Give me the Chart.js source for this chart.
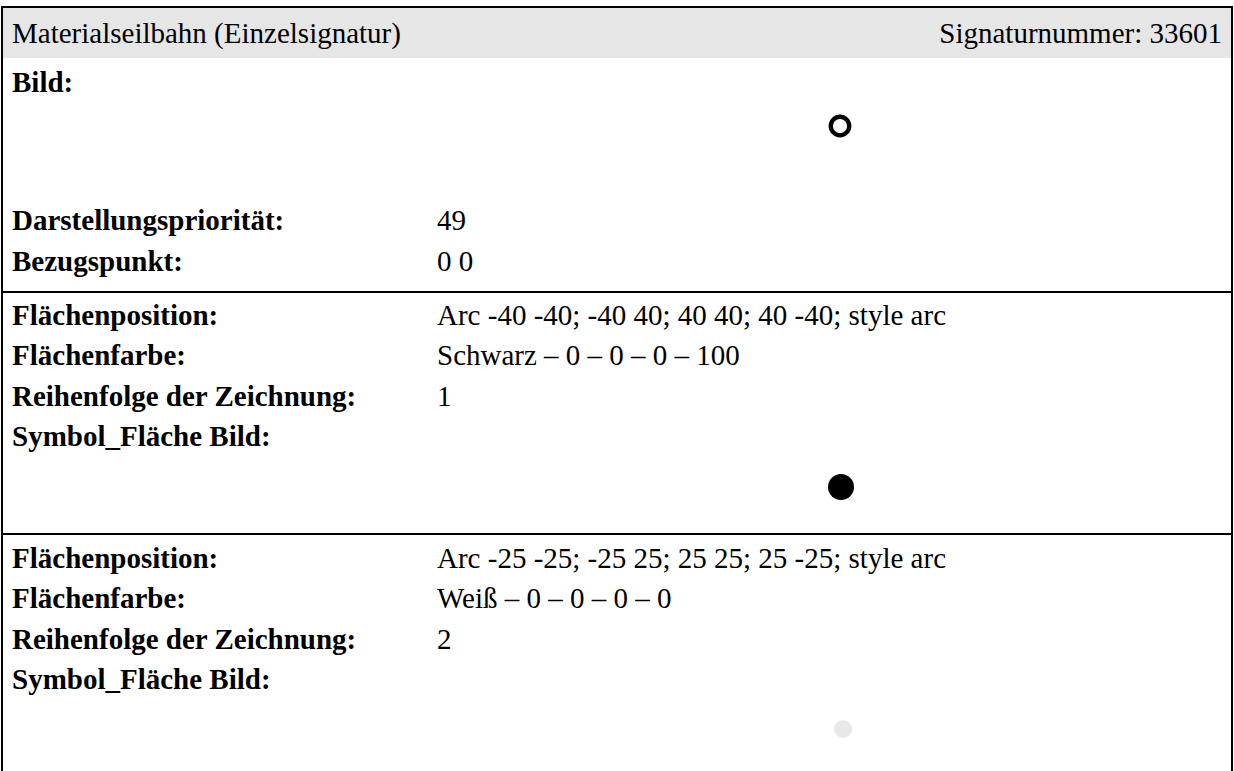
<!DOCTYPE html>
<html>
<head>
<meta charset="utf-8">
<script src="https://cdn.jsdelivr.net/npm/chart.js@4/dist/chart.umd.min.js"></script>
<style>
  html, body { margin: 0; padding: 0; background: #fff; }
  body { width: 1234px; height: 771px; position: relative; overflow: hidden;
         font-family: "Liberation Serif", "Times New Roman", serif; font-size: 29px; color: #000; }
  .frame { position: absolute; left: 1px; top: 6px; width: 1232px; height: 800px;
           box-sizing: border-box; border: 2px solid #000; border-bottom: none; }
  .head { position: absolute; left: 3px; top: 8px; width: 1228px; height: 50px; background: #e6e6e6; }
  .rule { position: absolute; left: 1px; width: 1232px; height: 2px; background: #000; }
  .t { position: absolute; line-height: 29px; white-space: nowrap; }
  .b { font-weight: bold; }
  canvas { position: absolute; }
</style>
</head>
<body>
<div class="frame"></div>
<div class="head"></div>
<div id="doc"></div>

<script>
// Sheet data
const title = 'Materialseilbahn (Einzelsignatur)'
const signatureNumber = 33601
const displayPriority = 49
const referencePoint = [0, 0]

// One entry per area (Fläche)
const areaColorNames = ['Schwarz', 'Weiß']
const areaCmyk = [[0, 0, 0, 100], [0, 0, 0, 0]]
const areaArcBoxes = [[-40, -40, 40, 40], [-25, -25, 25, 25]]
const areaDrawOrder = [1, 2]

// Layout (pixels)
const LABEL_X = 12
const VALUE_X = 437
const ROW_GAP = 40.3
const SYMBOL_X = 841

function text(str, x, baseline, bold, alignRight) {
  const el = document.createElement('div')
  el.className = 't' + (bold ? ' b' : '')
  el.textContent = str
  el.style.top = (baseline - 24) + 'px'
  if (alignRight) {
    el.style.right = (1234 - x) + 'px'
  } else {
    el.style.left = x + 'px'
  }
  document.getElementById('doc').appendChild(el)
}

function rule(y) {
  const el = document.createElement('div')
  el.className = 'rule'
  el.style.top = y + 'px'
  document.getElementById('doc').appendChild(el)
}

function cmykToRgb(c, m, y, k) {
  const r = Math.round(255 * (1 - c / 100) * (1 - k / 100))
  const g = Math.round(255 * (1 - m / 100) * (1 - k / 100))
  const b = Math.round(255 * (1 - y / 100) * (1 - k / 100))
  return `rgb(${r}, ${g}, ${b})`
}

function arcText(box) {
  const [x0, y0, x1, y1] = box
  return `Arc ${x0} ${y0}; ${x0} ${y1}; ${x1} ${y1}; ${x1} ${y0}; style arc`
}

// radius in symbol units -> pixels through the chart's own x scale
function radiusFor(box) {
  const r = (box[2] - box[0]) / 2
  return (ctx) => {
    const sx = ctx.chart.scales.x
    return Math.abs(sx.getPixelForValue(r) - sx.getPixelForValue(0))
  }
}

function symbolChart(cx, cy, size, pxPerUnit, areas, previewFill) {
  const canvas = document.createElement('canvas')
  canvas.width = size
  canvas.height = size
  canvas.style.left = (cx - size / 2) + 'px'
  canvas.style.top = (cy - size / 2) + 'px'
  document.body.appendChild(canvas)

  const span = size / 2 / pxPerUnit
  const datasets = areas.map((i) => {
    const fill = previewFill || cmykToRgb(...areaCmyk[i])
    return {
      label: areaColorNames[i],
      data: [{ x: referencePoint[0], y: referencePoint[1] }],
      order: -areaDrawOrder[i],
      pointStyle: 'circle',
      pointRadius: radiusFor(areaArcBoxes[i]),
      pointHoverRadius: radiusFor(areaArcBoxes[i]),
      pointBackgroundColor: fill,
      pointBorderWidth: 0,
      pointHoverBorderWidth: 0
    }
  })

  return new Chart(canvas.getContext('2d'), {
    type: 'scatter',
    data: { datasets },
    options: {
      responsive: false,
      animation: false,
      events: [],
      layout: { padding: 0 },
      plugins: { legend: { display: false }, tooltip: { enabled: false } },
      scales: {
        x: { type: 'linear', display: false, min: -span, max: span },
        y: { type: 'linear', display: false, min: -span, max: span }
      }
    }
  })
}

// Header
text(title, LABEL_X, 43, false)
text('Signaturnummer: ' + signatureNumber, 1222, 43, false, true)

// General block
text('Bild:', LABEL_X, 92, true)
text('Darstellungspriorität:', LABEL_X, 230, true)
text(String(displayPriority), VALUE_X, 230, false)
text('Bezugspunkt:', LABEL_X, 271, true)
text(referencePoint.join(' '), VALUE_X, 271, false)

// Bild = all areas stacked in drawing order
symbolChart(840, 126, 60, 0.285, areaColorNames.map((_, i) => i))

// One block per area
const blockTops = [291, 533]
const firstBaselines = [325, 568]
const symbolCenters = [487, 729]
const previewFills = [null, '#e8e8e8']
areaColorNames.forEach((name, i) => {
  rule(blockTops[i])
  const b0 = firstBaselines[i]
  text('Flächenposition:', LABEL_X, b0, true)
  text(arcText(areaArcBoxes[i]), VALUE_X, b0, false)
  text('Flächenfarbe:', LABEL_X, b0 + ROW_GAP, true)
  text([name].concat(areaCmyk[i]).join(' – '), VALUE_X, b0 + ROW_GAP, false)
  text('Reihenfolge der Zeichnung:', LABEL_X, b0 + ROW_GAP * 2, true)
  text(String(areaDrawOrder[i]), VALUE_X, b0 + ROW_GAP * 2, false)
  text('Symbol_Fläche Bild:', LABEL_X, b0 + ROW_GAP * 3, true)
  symbolChart(SYMBOL_X + i * 2, symbolCenters[i], 70, [0.325, 0.36][i], [i], previewFills[i])
})
</script>
</body>
</html>
